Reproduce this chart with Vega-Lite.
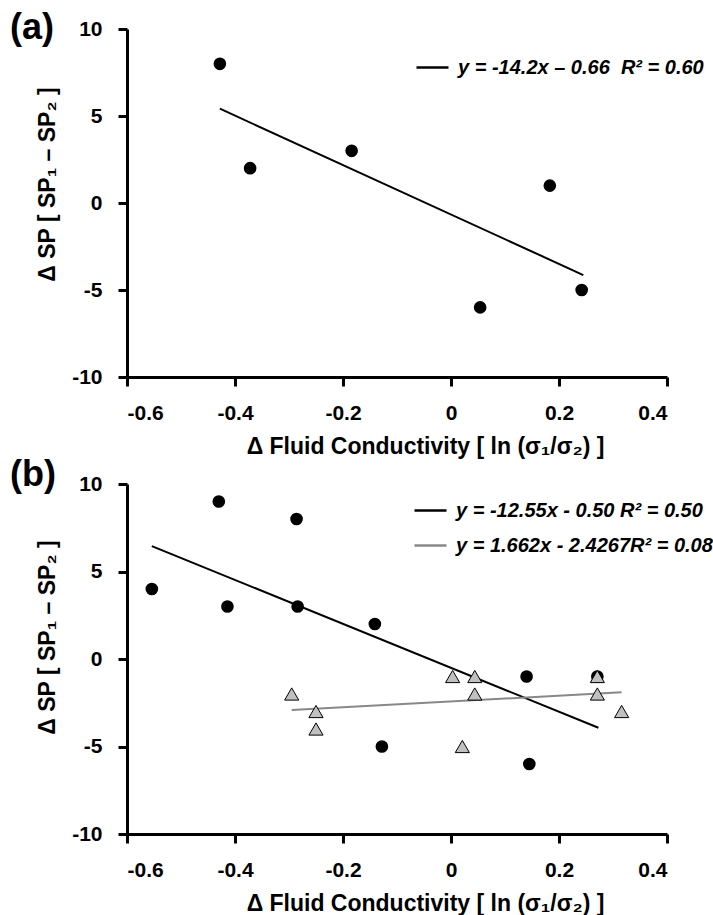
{
  "$schema": "https://vega.github.io/schema/vega-lite/v6.json",
  "background": "white",
  "padding": {"left": 10, "top": 10, "right": 5, "bottom": 0},
  "config": {
    "font": "Liberation Sans",
    "view": {"stroke": null},
    "axis": {
      "grid": false,
      "domainColor": "black",
      "domainWidth": 3,
      "tickColor": "black",
      "tickWidth": 3,
      "tickSize": 9,
      "labelFont": "Liberation Sans",
      "labelFontWeight": "bold",
      "labelFontSize": 21,
      "labelColor": "black",
      "labelPadding": 16,
      "titleFont": "Liberation Sans",
      "titleFontWeight": "bold",
      "titleFontSize": 23,
      "titleColor": "black"
    },
    "legend": {
      "title": null,
      "symbolType": "stroke",
      "symbolSize": 1024,
      "symbolStrokeWidth": 2.5,
      "labelFont": "Liberation Sans",
      "labelFontStyle": "italic",
      "labelFontWeight": "bold",
      "labelFontSize": 20,
      "labelColor": "black",
      "labelLimit": 400,
      "labelOffset": 8,
      "rowPadding": 7
    }
  },
  "datasets": {
    "a_points": [
      {"x": -0.428, "y": 8},
      {"x": -0.372, "y": 2},
      {"x": -0.184, "y": 3},
      {"x": 0.054, "y": -6},
      {"x": 0.183, "y": 1},
      {"x": 0.242, "y": -5}
    ],
    "a_fit": [
      {"x": -0.428, "y": 5.42, "fit": "y = -14.2x – 0.66\u00a0\u00a0R² = 0.60"},
      {"x": 0.245, "y": -4.14, "fit": "y = -14.2x – 0.66\u00a0\u00a0R² = 0.60"}
    ],
    "b_circles": [
      {"x": -0.554, "y": 4},
      {"x": -0.43, "y": 9},
      {"x": -0.414, "y": 3},
      {"x": -0.286, "y": 8},
      {"x": -0.284, "y": 3},
      {"x": -0.141, "y": 2},
      {"x": -0.128, "y": -5},
      {"x": 0.14, "y": -1},
      {"x": 0.145, "y": -6},
      {"x": 0.271, "y": -1}
    ],
    "b_triangles": [
      {"x": -0.295, "y": -2},
      {"x": -0.25, "y": -3},
      {"x": -0.25, "y": -4},
      {"x": 0.003, "y": -1},
      {"x": 0.021, "y": -5},
      {"x": 0.044, "y": -1},
      {"x": 0.044, "y": -2},
      {"x": 0.271, "y": -1},
      {"x": 0.271, "y": -2},
      {"x": 0.316, "y": -3}
    ],
    "b_fit": [
      {"x": -0.554, "y": 6.45, "fit": "y = -12.55x - 0.50 R² = 0.50"},
      {"x": 0.273, "y": -3.93, "fit": "y = -12.55x - 0.50 R² = 0.50"},
      {"x": -0.295, "y": -2.92, "fit": "y = 1.662x - 2.4267R² = 0.08"},
      {"x": 0.316, "y": -1.9, "fit": "y = 1.662x - 2.4267R² = 0.08"}
    ]
  },
  "bounds": "flush",
  "spacing": 107,
  "resolve": {"scale": {"color": "independent", "x": "independent", "y": "independent"}, "legend": {"color": "independent"}},
  "vconcat": [
    {
      "title": {"text": "(a)", "anchor": "start", "frame": "group", "fontSize": 36, "fontWeight": "bold", "font": "Liberation Sans", "color": "black", "baseline": "alphabetic", "offset": 0, "dx": -117, "dy": 57},
      "width": 540,
      "height": 348,
      "encoding": {
        "x": {"field": "x", "type": "quantitative", "scale": {"domain": [-0.6, 0.4], "nice": false, "zero": false},
              "axis": {"values": [-0.6, -0.4, -0.2, 0, 0.2, 0.4], "labelExpr": "datum.value == 0 ? '0' : replace(datum.label, '−', '-')", "title": "Δ Fluid Conductivity [ ln (σ₁/σ₂) ]", "titlePadding": 12, "titleX": 298}},
        "y": {"field": "y", "type": "quantitative", "scale": {"domain": [-10, 10], "nice": false},
              "axis": {"values": [-10, -5, 0, 5, 10], "labelExpr": "replace(datum.label, '−', '-')", "title": "Δ SP [ SP₁ – SP₂ ]", "titlePadding": 12, "titleY": 155}}
      },
      "layer": [
        {"data": {"name": "a_fit"}, "mark": {"type": "line", "strokeWidth": 2},
         "encoding": {"color": {"field": "fit", "type": "nominal", "scale": {"range": ["black"]},
                                "legend": {"orient": "none", "legendX": 288, "legendY": 21}}}},
        {"data": {"name": "a_points"}, "mark": {"type": "point", "shape": "circle", "filled": true, "size": 160, "color": "black", "opacity": 1}}
      ]
    },
    {
      "title": {"text": "(b)", "anchor": "start", "frame": "group", "fontSize": 36, "fontWeight": "bold", "font": "Liberation Sans", "color": "black", "baseline": "alphabetic", "offset": 0, "dx": -117, "dy": 49},
      "width": 540,
      "height": 350,
      "encoding": {
        "x": {"field": "x", "type": "quantitative", "scale": {"domain": [-0.6, 0.4], "nice": false, "zero": false},
              "axis": {"values": [-0.6, -0.4, -0.2, 0, 0.2, 0.4], "labelExpr": "datum.value == 0 ? '0' : replace(datum.label, '−', '-')", "title": "Δ Fluid Conductivity [ ln (σ₁/σ₂) ]", "titlePadding": 12, "titleX": 298}},
        "y": {"field": "y", "type": "quantitative", "scale": {"domain": [-10, 10], "nice": false},
              "axis": {"values": [-10, -5, 0, 5, 10], "labelExpr": "replace(datum.label, '−', '-')", "title": "Δ SP [ SP₁ – SP₂ ]", "titlePadding": 12, "titleY": 153}}
      },
      "layer": [
        {"data": {"name": "b_circles"}, "mark": {"type": "point", "shape": "circle", "filled": true, "size": 160, "color": "black", "opacity": 1}},
        {"data": {"name": "b_fit"}, "mark": {"type": "line", "strokeWidth": 2},
         "encoding": {"color": {"field": "fit", "type": "nominal",
                                "scale": {"domain": ["y = -12.55x - 0.50 R² = 0.50", "y = 1.662x - 2.4267R² = 0.08"], "range": ["black", "#888888"]},
                                "legend": {"orient": "none", "legendX": 286, "legendY": 9}}}},
        {"data": {"name": "b_triangles"}, "mark": {"type": "point", "shape": "triangle-up", "filled": true, "size": 200, "fill": "#c0c0c0", "stroke": "black", "strokeWidth": 1, "opacity": 1}}
      ]
    }
  ]
}
